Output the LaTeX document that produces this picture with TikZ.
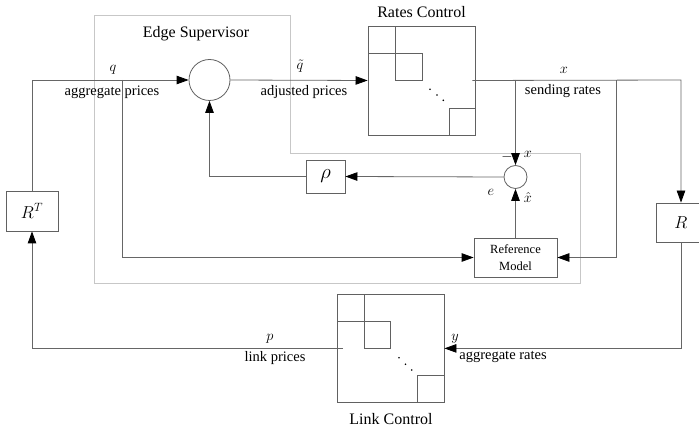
\documentclass[tikz,border=0pt]{standalone}
\usepackage{fontspec}
\setmainfont{Liberation Serif}
\usetikzlibrary{arrows.meta}
\tikzset{
  conn/.style={draw=black!60, line width=0.8pt},
  arr/.style={conn, -{Triangle[length=12pt,width=8.5pt,color=black]}},
  blk/.style={draw=black!62, line width=0.8pt, rectangle, inner sep=0pt},
  sumc/.style={draw=black!62, line width=0.8pt, circle, inner sep=0pt},
  sub/.style={draw=black!62, line width=0.8pt},
  title/.style={font=\fontsize{16}{19}\selectfont, inner sep=0pt},
  lbl/.style={font=\fontsize{14.5}{17}\selectfont, inner sep=0pt},
  var/.style={font=\fontsize{14.5}{17}\selectfont, inner sep=0pt},
  bigvar/.style={font=\fontsize{18}{21}\selectfont, inner sep=0pt},
  dotf/.style={fill=black},
}
\begin{document}
\begin{tikzpicture}[x=1pt,y=-1pt]
\useasboundingbox (0,0) rectangle (699,430);
\begin{scope}
\clip (0,0) rectangle (699,430);
% Edge supervisor outline
\draw[black!22, line width=0.8pt] (94,15) -- (290,15) -- (290,153) -- (580,153) -- (580,283) -- (94,283) -- cycle;

% nodes
\node[sumc, minimum size=41pt] (sum1) at (209.5,80) {};
\node[blk, minimum width=107pt, minimum height=109pt] (rc) at (421.5,80.5) {};
\node[sumc, minimum size=23pt] (sum2) at (515.5,177) {};
\node[blk, minimum width=39pt, minimum height=33pt, font=\fontsize{22}{24}\selectfont] (rho) at (325.5,176.5) {$\rho$};
\node[blk, minimum width=83pt, minimum height=39pt, align=center, font=\fontsize{12.5}{17}\selectfont] (ref) at (515.5,257.5) {Reference\\Model};
\node[blk, minimum width=52pt, minimum height=40pt, bigvar] (RT) at (32,211) {$R^T$};
\node[blk, minimum width=50pt, minimum height=39pt] (R) at (681,222.5) {};
\node[bigvar] (Rlbl) at (681,222.5) {$R$};
\node[blk, minimum width=107pt, minimum height=108.5pt] (lc) at (390.5,348.4) {};

% sub-blocks in rates control
\draw[sub] (368,26) rectangle (395,53);
\draw[sub] (395,53) rectangle (422,80);
\draw[sub] (449,108) rectangle (475,135);
\fill[dotf] (430,89.3) circle (0.9) (437,95) circle (0.9) (443.3,100.3) circle (0.9);
% sub-blocks in link control
\draw[sub] (337,294) rectangle (364,321.5);
\draw[sub] (364,321.5) rectangle (390.7,348.3);
\draw[sub] (417.7,375.7) rectangle (444,402.7);
\fill[dotf] (399,357.7) circle (0.9) (405.5,364.3) circle (0.9) (411.7,370) circle (0.9);

% coordinates
\coordinate (jL) at (32,80);
\coordinate (jQ) at (122,80);
\coordinate (jQd) at (122,257.5);
\coordinate (jX1) at (515.5,80);
\coordinate (jX2) at (616.5,80);
\coordinate (jX2d) at (616.5,257.5);
\coordinate (jXR) at (681,80);
\coordinate (jRho) at (209.5,176.5);
\coordinate (jY) at (681,348.4);
\coordinate (jP0) at (343,348.4);
\coordinate (jP) at (32,348.4);

% connectors
\draw[arr] (RT.north) -- (jL) -- (sum1.west);
\draw[arr] (jQ) -- (jQd) -- (ref.west);
\draw[arr] (sum1.east) -- (rc.west);
\draw[arr] ([xshift=-3pt]rc.east) -- (jXR) -- (R.north);
\draw[arr] (jX1) -- (sum2.north);
\draw[arr] (jX2) -- (jX2d) -- (ref.east);
\draw[arr] (ref.north) -- (sum2.south);
\draw[arr] (sum2.west) -- (rho.east);
\draw[arr] (rho.west) -- (jRho) -- (sum1.south);
\draw[arr] (R.south) -- (jY) -- (lc.east);
\draw[arr] (jP0) -- (jP) -- (RT.south);

% labels
\node[title] (tES) at (196,34) {Edge Supervisor};
\node[title] (tRC) at (421.5,12) {Rates Control};
\node[title] (tLC) at (391,419) {Link Control};
\node[var] (lq) at (113,70) {$q$};
\node[lbl] (lqt) at (112,92) {aggregate prices};
\node[var] (lqq) at (300,66) {$\tilde q$};
\node[lbl] (lqqt) at (304,92) {adjusted prices};
\node[var] (lx) at (564,70) {$x$};
\node[lbl] (lxt) at (563,91) {sending rates};
\node[var] (lminus) at (507,157) {$-$};
\node[var] (lx2) at (528,154) {$x$};
\node[var] (le) at (491,192) {$e$};
\node[var] (lxh) at (528,198) {$\hat x$};
\node[var] (lp) at (270,339) {$p$};
\node[lbl] (lpt) at (275,358) {link prices};
\node[var] (ly) at (455,339) {$y$};
\node[lbl] (lyt) at (503,357) {aggregate rates};
\end{scope}
\end{tikzpicture}
\end{document}
